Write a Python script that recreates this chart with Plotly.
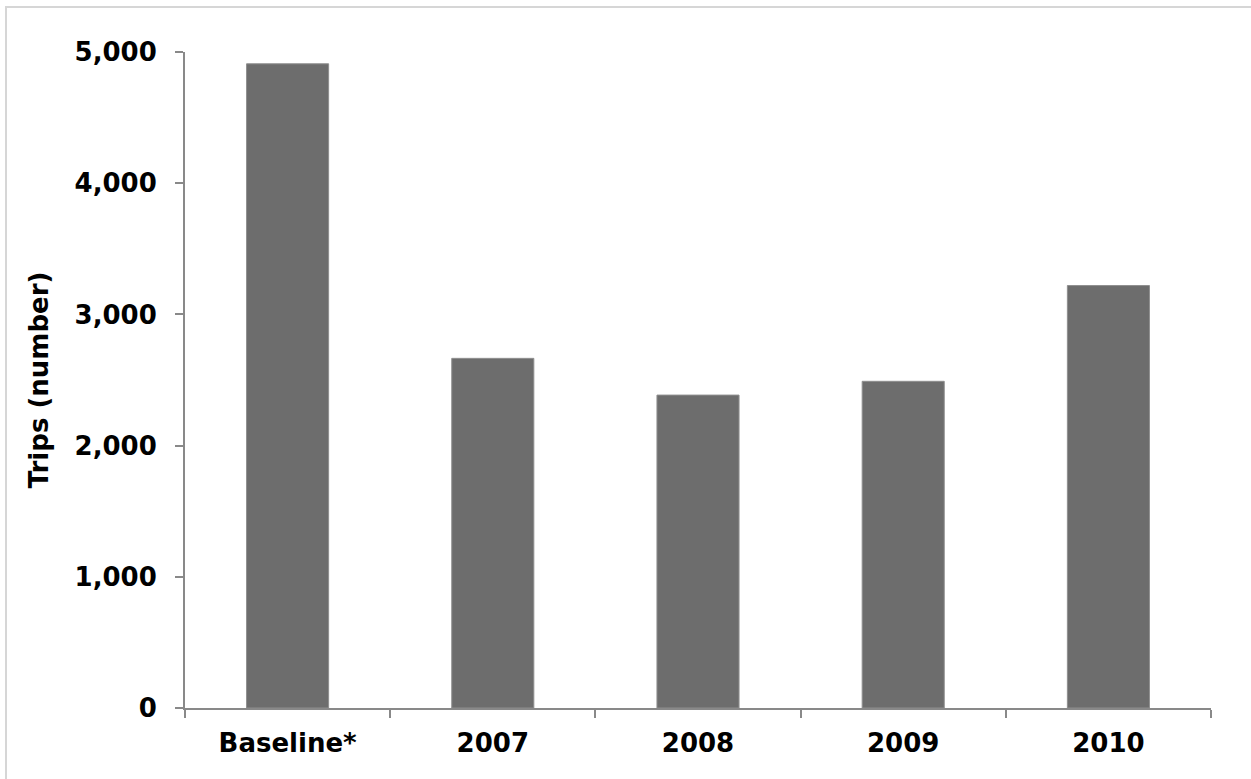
import plotly.graph_objects as go

categories = ["Baseline*", "2007", "2008", "2009", "2010"]
trips = [4910, 2665, 2385, 2490, 3220]
y_ticks = [0, 1000, 2000, 3000, 4000, 5000]
y_tick_labels = ["0", "1,000", "2,000", "3,000", "4,000", "5,000"]

W, H = 1251, 779
ML, MR, MT, MB = 185, 40, 52, 71
pw, ph = W - ML - MR, H - MT - MB

fig = go.Figure(go.Bar(
    x=categories, y=trips,
    marker=dict(color="#6d6d6d", line=dict(color="#8f8f8f", width=1)),
    width=0.4,
))

FS = 26
tf = dict(family="DejaVu Sans", size=FS, color="#000", weight="bold")

fig.update_layout(
    width=W, height=H,
    margin=dict(l=ML, r=MR, t=MT, b=MB, pad=0),
    paper_bgcolor="white", plot_bgcolor="white",
    showlegend=False,
    font=dict(family="DejaVu Sans", size=FS, color="#000"),
    xaxis=dict(
        type="category",
        showline=True, linecolor="#898989", linewidth=2,
        ticks="outside", ticklen=8, tickwidth=2, tickcolor="#898989",
        tickson="boundaries",
        tickfont=tf,
        ticklabelstandoff=11,
        showgrid=False, zeroline=False,
    ),
    yaxis=dict(
        range=[0, 5000],
        tickvals=y_ticks, ticktext=y_tick_labels,
        showline=True, linecolor="#898989", linewidth=2,
        ticks="outside", ticklen=8, tickwidth=2, tickcolor="#898989",
        tickfont=tf,
        ticklabelstandoff=13,
        showgrid=False, zeroline=False,
        title=dict(text="Trips (number)", standoff=18, font=tf),
    ),
    shapes=[dict(
        type="rect", xref="paper", yref="paper",
        x0=(6 - ML) / pw, x1=(W + 20 - ML) / pw,
        y0=-(MB + 20) / ph, y1=1 + (MT - 7) / ph,
        line=dict(color="#d6d6d6", width=2), fillcolor="rgba(0,0,0,0)",
        layer="below",
    )],
)

fig.write_html("out.html")
